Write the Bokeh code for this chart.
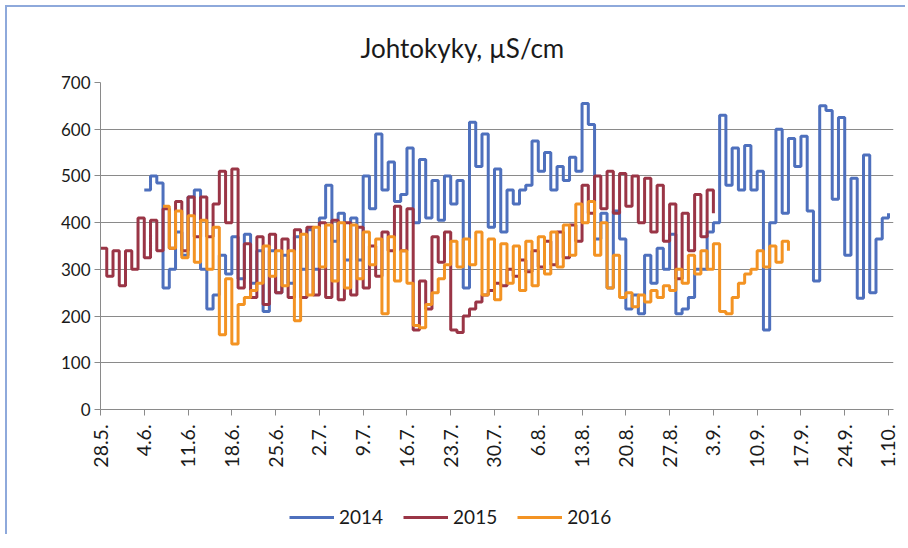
from bokeh.plotting import figure
from bokeh.layouts import column
from bokeh.models import Range1d, FixedTicker, Legend, LegendItem
from bokeh.embed import file_html
from bokeh.resources import INLINE
from math import pi

# ---- data -------------------------------------------------------------
tick_days = [0, 7, 14, 21, 28, 35, 42, 49, 56, 63, 70, 77, 84, 91, 98, 105, 112, 119, 126]
tick_labels = ["28.5.", "4.6.", "11.6.", "18.6.", "25.6.", "2.7.", "9.7.", "16.7.", "23.7.",
               "30.7.", "6.8.", "13.8.", "20.8.", "27.8.", "3.9.", "10.9.", "17.9.", "24.9.", "1.10."]

# daily conductivity readings (µS/cm); first value belongs to day `start_*` after 28.5.
start_2014 = 7
vals_2014 = [470, 500, 485, 260, 300, 380, 330, 455, 470, 300,
             215, 245, 330, 290, 370, 280, 375, 270, 340, 210,
             340, 250, 330, 270, 370, 300, 385, 300, 410, 480,
             360, 420, 320, 410, 320, 500, 430, 590, 470, 530,
             445, 460, 560, 400, 535, 410, 490, 405, 500, 440,
             490, 260, 615, 520, 590, 390, 515, 380, 470, 440,
             470, 480, 575, 510, 550, 470, 520, 490, 540, 510,
             655, 610, 365, 420, 260, 425, 365, 215, 245, 205,
             330, 270, 345, 300, 375, 205, 215, 240, 300, 300,
             380, 400, 630, 480, 560, 470, 565, 470, 510, 170,
             400, 600, 420, 580, 520, 585, 425, 275, 650, 640,
             450, 625, 330, 495, 238, 545, 250, 365, 410, 420]

start_2015 = 0
vals_2015 = [345, 285, 340, 265, 340, 300, 410, 325, 405, 340,
             430, 345, 445, 340, 455, 370, 455, 370, 440, 510,
             400, 515, 260, 355, 240, 370, 225, 375, 250, 365,
             240, 385, 240, 390, 245, 400, 240, 405, 235, 400,
             245, 390, 260, 350, 285, 380, 340, 435, 340, 430,
             170, 275, 215, 370, 315, 380, 170, 165, 200, 215,
             230, 245, 255, 270, 265, 300, 285, 320, 295, 340,
             305, 360, 310, 380, 325, 395, 360, 480, 420, 500,
             430, 510, 420, 505, 435, 500, 400, 495, 380, 480,
             360, 440, 280, 420, 340, 460, 370, 470, 420]

start_2016 = 10
vals_2016 = [435, 345, 425, 325, 415, 315, 405, 300, 390, 160,
             280, 140, 225, 240, 255, 270, 350, 285, 340, 265,
             340, 190, 375, 245, 390, 305, 395, 275, 400, 260,
             395, 280, 380, 310, 365, 205, 370, 275, 340, 270,
             180, 175, 225, 250, 280, 310, 360, 305, 365, 310,
             380, 245, 365, 235, 355, 270, 350, 255, 360, 265,
             370, 290, 380, 305, 395, 330, 440, 400, 445, 330,
             400, 260, 330, 240, 250, 220, 245, 230, 255, 240,
             265, 255, 300, 270, 330, 290, 340, 300, 355, 210,
             205, 240, 270, 290, 300, 340, 305, 350, 315, 360, 340]

series = [("2014", start_2014, vals_2014, "#4E70BD"),
          ("2015", start_2015, vals_2015, "#9A3546"),
          ("2016", start_2016, vals_2016, "#F39323")]

# ---- main figure ------------------------------------------------------
FONT = "Lato"
TXT = "#1a1a1a"
GRID = "#8a8a8a"

p = figure(width=898, height=493, output_backend="svg", toolbar_location=None,
           x_range=Range1d(0, 126.8), y_range=Range1d(0, 700),
           min_border_left=93, min_border_right=12, min_border_top=75, min_border_bottom=91)

p.title.text = "Johtokyky, µS/cm"
p.title.align = "left"
p.title.offset = 260
p.title.text_font = FONT
p.title.text_font_size = "26px"
p.title.text_font_style = "normal"
p.title.text_color = TXT
p.title.standoff = 38

p.outline_line_color = None
p.xgrid.visible = False
p.ygrid.grid_line_color = GRID
p.ygrid.grid_line_width = 1

p.yaxis.ticker = FixedTicker(ticks=[0, 100, 200, 300, 400, 500, 600, 700])
p.yaxis.minor_tick_line_color = None
p.yaxis.major_tick_out = 6
p.yaxis.major_tick_in = 0
p.yaxis.axis_line_color = GRID
p.yaxis.major_tick_line_color = GRID
p.yaxis.major_label_text_font = FONT
p.yaxis.major_label_text_font_size = "17px"
p.yaxis.major_label_text_color = TXT
p.yaxis.major_label_standoff = 4

p.xaxis.ticker = FixedTicker(ticks=tick_days)
p.xaxis.major_label_overrides = {d: lab for d, lab in zip(tick_days, tick_labels)}
p.xaxis.major_label_orientation = pi / 2
p.xaxis.minor_tick_line_color = None
p.xaxis.major_tick_out = 6
p.xaxis.major_tick_in = 0
p.xaxis.axis_line_color = GRID
p.xaxis.major_tick_line_color = GRID
p.xaxis.major_label_text_font = FONT
p.xaxis.major_label_text_font_size = "19.5px"
p.xaxis.major_label_text_color = TXT
p.xaxis.major_label_standoff = 9

# ---- legend strip (same series, drawn outside its visible range) ------
q = figure(width=898, height=34, output_backend="svg", toolbar_location=None,
           x_range=Range1d(-3, -2), y_range=Range1d(0, 1),
           x_axis_location=None, y_axis_location=None, min_border=0)
q.grid.visible = False
q.outline_line_color = None

items = []
for name, start, vals, color in series:
    days = [start + i for i in range(len(vals))]
    p.step(days, vals, mode="after", line_color=color, line_width=3)
    r = q.step(days, vals, mode="after", line_color=color, line_width=3)
    items.append(LegendItem(label=name, renderers=[r]))

legend = Legend(items=items, orientation="horizontal", location=(189, 6),
                glyph_width=45, glyph_height=14, spacing=20, label_standoff=5,
                label_text_font=FONT, label_text_font_size="19px", label_text_color=TXT,
                border_line_color=None, background_fill_alpha=0, margin=0, padding=4)
q.add_layout(legend)

layout = column(p, q, spacing=0)
layout.styles = {"border-left": "2px solid #8EA9DB", "border-top": "2px solid #8EA9DB",
                 "margin-left": "5px", "margin-top": "5px"}

open("out.html", "w").write(file_html(layout, INLINE))
